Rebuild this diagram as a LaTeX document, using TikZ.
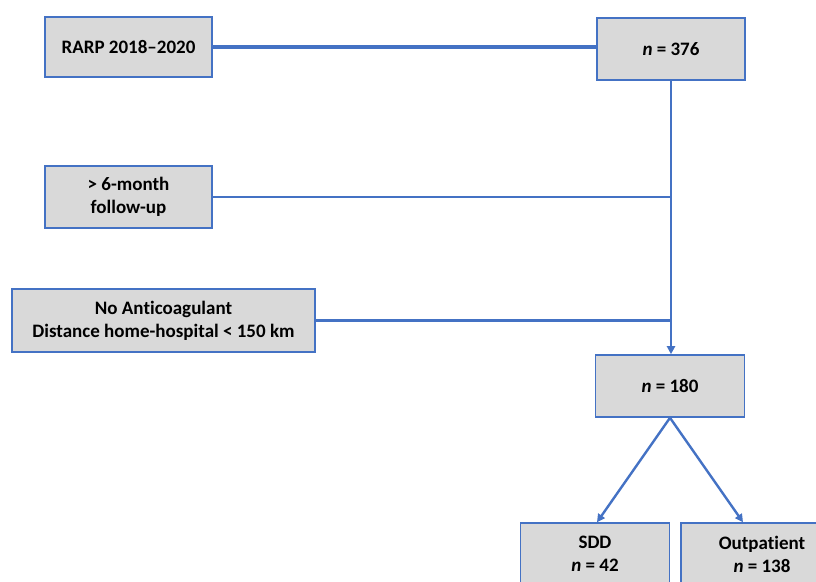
\documentclass[tikz,border=0pt]{standalone}
\usepackage{fontspec}
\setmainfont{Carlito}[Ligatures = {NoCommon}]
\usetikzlibrary{positioning, arrows.meta}
\definecolor{boxblue}{HTML}{4472C4}
\definecolor{boxgrey}{HTML}{D9D9D9}
\tikzset{%
  block/.style = {draw = boxblue, fill = boxgrey, line width = 1.6pt, rectangle,
    align = center, inner sep = 0pt,
    font = \bfseries\fontsize{19}{23}\selectfont},
  link/.style  = {draw = boxblue, line width = 2.4pt}, % plain line
  flow/.style  = {link, -{Triangle[width = 8pt, length = 8pt]}} % arrow
}
\newcommand{\ncount}[1]{{\itshape n} = #1}

\begin{document}
\begin{tikzpicture}[x = 1pt, y = -1pt]
\useasboundingbox (0,0) rectangle (816,581);
\clip (0,0) rectangle (816,581);
%selection boxes
\draw
	(128.5,47) node [block, minimum width = 167pt, minimum height = 60pt] (rarp) {RARP 2018--2020}
	(671,49) node [block, minimum width = 148pt, minimum height = 62pt] (n376) {\ncount{376}}
	(128.5,197) node [block, minimum width = 167pt, minimum height = 62pt] (follow) {> 6-month\\follow-up}
	(163.5,320.5) node [block, minimum width = 303pt, minimum height = 63pt] (anticoag) {No Anticoagulant\\Distance home-hospital < 150 km}
	(670,386) node [block, minimum width = 149pt, minimum height = 62pt] (n180) {\ncount{180}};
%outcome boxes
\draw
	(595,554) node [block, minimum width = 149pt, minimum height = 62pt] (sdd) {SDD\\\ncount{42}}
	(762,554) node [block, minimum width = 162pt, minimum height = 62pt] (outp) {Outpatient\\\ncount{138}};
%lines
\draw[link, line width = 3.6pt] (rarp.east) -- (rarp.east -| n376.west);
\draw[flow] (n376.south) -- (n376.south |- n180.north);
\draw[link] (follow.east) -- (follow.east -| n376.south);
\draw[link] (anticoag.east) -- (anticoag.east -| n376.south);
%split
\draw[flow] (n180.south) -- ([xshift = 2pt]sdd.north);
\draw[flow] (n180.south) -- ([xshift = -19pt]outp.north);
\end{tikzpicture}
\end{document}
